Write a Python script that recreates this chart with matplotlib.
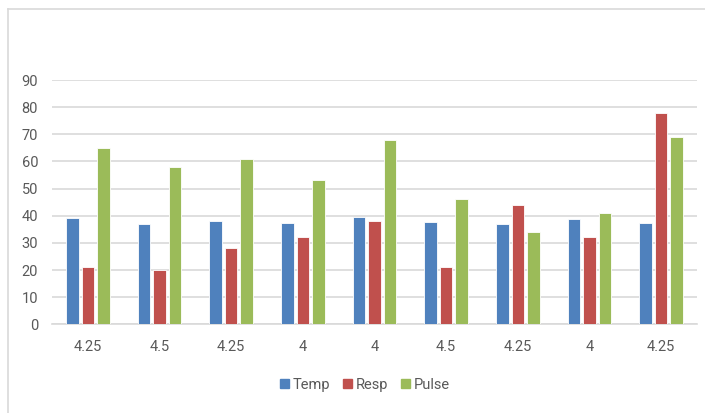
import matplotlib
matplotlib.use("Agg")
import matplotlib.pyplot as plt
import numpy as np
from matplotlib.lines import Line2D
from matplotlib.patches import Patch

categories = ["4.25", "4.5", "4.25", "4", "4", "4.5", "4.25", "4", "4.25"]
temp = [39, 37, 38, 37.3, 39.4, 37.8, 36.9, 38.9, 37.2]
resp = [21, 20, 28, 32, 38, 21, 44, 32, 78]
pulse = [65, 58, 61, 53, 68, 46, 34, 41, 69]
series_names = ["Temp", "Resp", "Pulse"]
colors = ["#4F81BD", "#C0504D", "#9BBB59"]

plt.rcParams["font.family"] = ["Roboto", "DejaVu Sans"]
text_color = "#595959"
grid_color = "#D9D9D9"

fig = plt.figure(figsize=(7.05, 4.13), dpi=100)

# chart area frame (left and top edges only)
fig.add_artist(Line2D([8 / 705, 8 / 705], [0, 1 - 9 / 413], transform=fig.transFigure,
                      color=grid_color, lw=1.2))
fig.add_artist(Line2D([8 / 705, 1], [1 - 9 / 413, 1 - 9 / 413], transform=fig.transFigure,
                      color=grid_color, lw=1.2))

ax = fig.add_axes([52 / 705, 88.7 / 413, 645 / 705, 244.3 / 413])
x = np.arange(len(categories))
width = 0.175
step = 0.216
for i, (vals, c) in enumerate(zip([temp, resp, pulse], colors)):
    ax.bar(x + (i - 1) * step, vals, width, color=c, edgecolor="white", linewidth=0.6, zorder=3)

ax.set_xlim(-0.5, len(categories) - 0.5)
ax.set_ylim(0, 90)
ax.set_yticks(range(0, 91, 10))
ax.set_xticks(x)
ax.set_xticklabels(categories)
ax.grid(axis="y", color=grid_color, lw=1.2, zorder=0)
for s in ["top", "right", "left"]:
    ax.spines[s].set_visible(False)
ax.spines["bottom"].set_color(grid_color)
ax.spines["bottom"].set_linewidth(1.2)
ax.tick_params(length=0, colors=text_color, labelsize=10.5)
ax.tick_params(axis="x", pad=11)
ax.tick_params(axis="y", pad=10)

handles = [Patch(color=c, label=n) for c, n in zip(colors, series_names)]
leg = fig.legend(handles=handles, loc="center", bbox_to_anchor=(365 / 705, 1 - 385 / 413),
                 ncol=3, frameon=False, fontsize=10.5, handlelength=0.6, handleheight=0.6,
                 handletextpad=0.3, columnspacing=0.85, labelcolor=text_color)

fig.savefig("out.png", dpi=100)
